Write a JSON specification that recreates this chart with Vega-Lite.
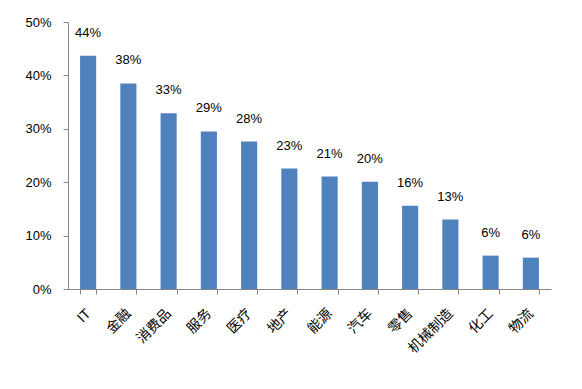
{
  "$schema": "https://vega.github.io/schema/vega-lite/v6.json",
  "autosize": {"type": "none"},
  "padding": {"left": 68, "top": 22, "right": 31, "bottom": 100},
  "width": 483,
  "height": 267,
  "config": {
    "font": "Liberation Sans, Noto Sans CJK SC",
    "view": {"stroke": null}
  },
  "data": {
    "values": [
      {"sector": "IT", "value": 0.437, "label": "44%"},
      {"sector": "金融", "value": 0.385, "label": "38%"},
      {"sector": "消费品", "value": 0.329, "label": "33%"},
      {"sector": "服务", "value": 0.295, "label": "29%"},
      {"sector": "医疗", "value": 0.276, "label": "28%"},
      {"sector": "地产", "value": 0.2256, "label": "23%"},
      {"sector": "能源", "value": 0.2106, "label": "21%"},
      {"sector": "汽车", "value": 0.201, "label": "20%"},
      {"sector": "零售", "value": 0.156, "label": "16%"},
      {"sector": "机械制造", "value": 0.13, "label": "13%"},
      {"sector": "化工", "value": 0.0625, "label": "6%"},
      {"sector": "物流", "value": 0.0587, "label": "6%"}
    ]
  },
  "encoding": {
    "x": {
      "field": "sector", "type": "nominal", "sort": null,
      "scale": {"paddingInner": 0.6, "paddingOuter": 0.3},
      "axis": {
        "title": null, "labelAngle": -45, "labelAlign": "right", "labelBaseline": "middle",
        "labelFontSize": 14, "labelColor": "#000000", "labelPadding": 17,
        "domainColor": "#868686", "tickColor": "#868686", "tickSize": 5,
        "tickBand": "extent", "grid": false
      }
    },
    "y": {
      "field": "value", "type": "quantitative",
      "scale": {"domain": [0, 0.5], "nice": false},
      "axis": {
        "title": null, "format": ".0%", "values": [0, 0.1, 0.2, 0.3, 0.4, 0.5],
        "labelFontSize": 13, "labelColor": "#000000", "labelPadding": 12,
        "domainColor": "#868686", "tickColor": "#868686", "tickSize": 5, "grid": false
      }
    }
  },
  "layer": [
    {"mark": {"type": "bar", "color": "#4F81BD"}},
    {
      "mark": {"type": "text", "baseline": "bottom", "dy": -16, "fontSize": 13, "color": "#000000"},
      "encoding": {"text": {"field": "label"}}
    }
  ]
}
